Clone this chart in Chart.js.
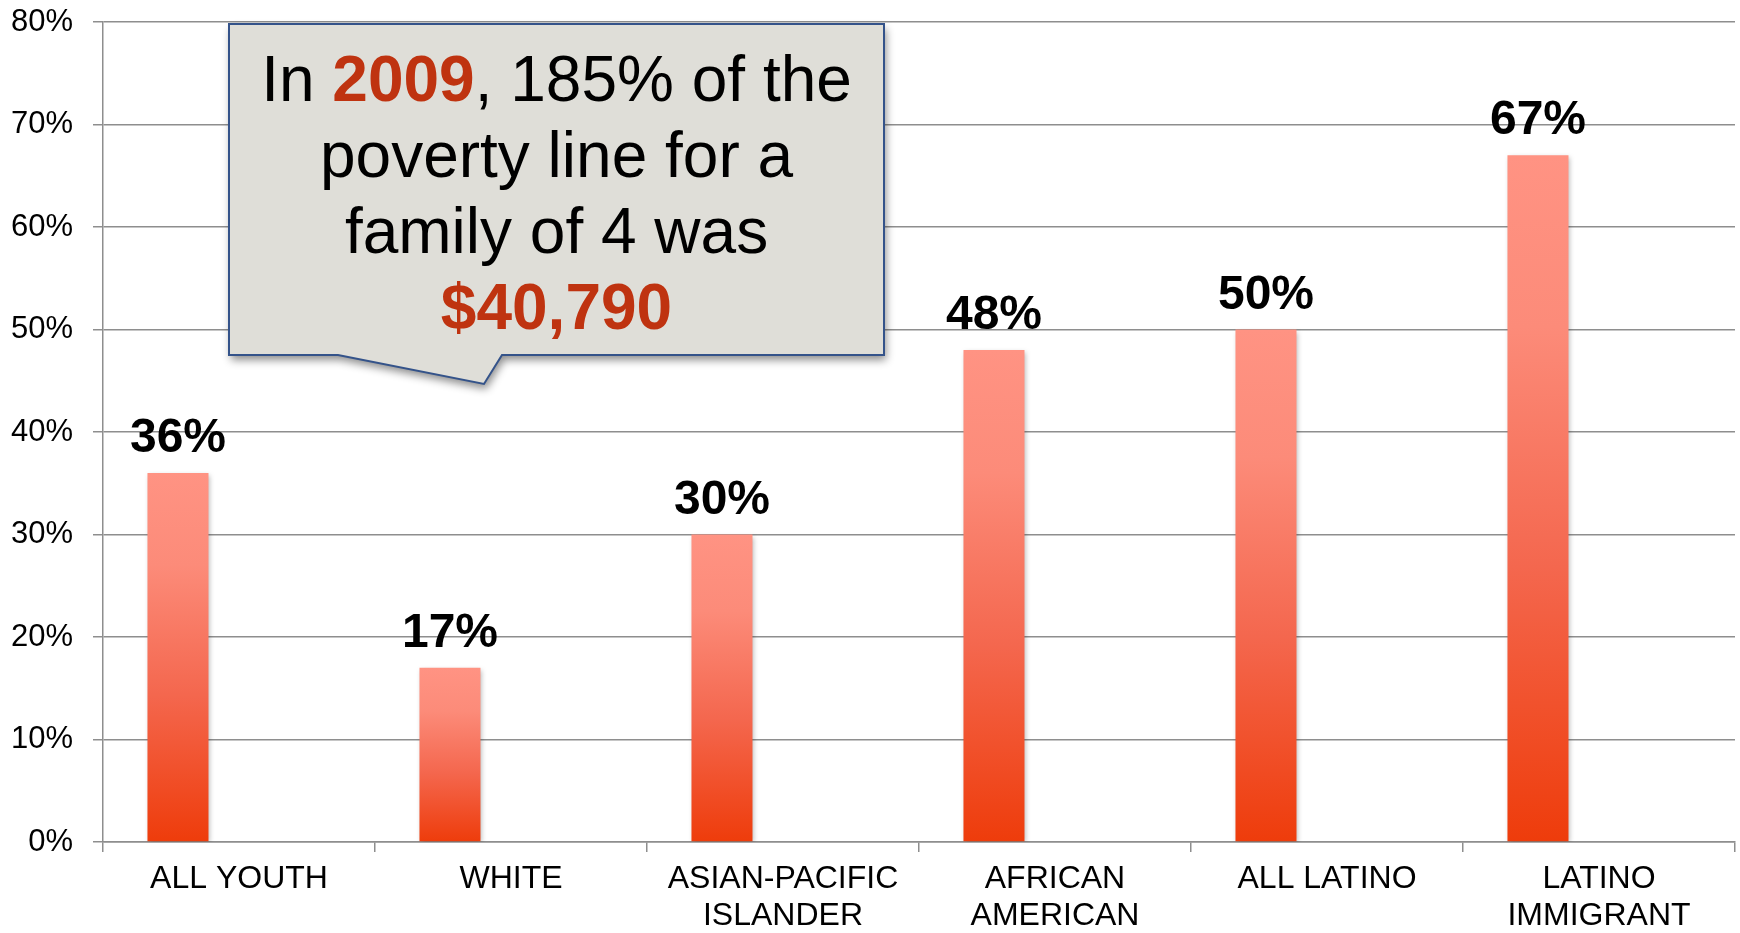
<!DOCTYPE html>
<html>
<head>
<meta charset="utf-8">
<script src="https://cdn.jsdelivr.net/npm/chart.js@4/dist/chart.umd.min.js"></script>
<style>
  html, body { margin: 0; padding: 0; background: #ffffff; }
  #wrap { width: 1740px; height: 933px; }
</style>
</head>
<body>
<div id="wrap"><canvas id="c" width="1740" height="933"></canvas></div>
<script>
// ---- data ----
const categories = ['ALL YOUTH', 'WHITE', ['ASIAN-PACIFIC', 'ISLANDER'], ['AFRICAN', 'AMERICAN'], 'ALL LATINO', ['LATINO', 'IMMIGRANT']];
const sharePct = [36, 17, 30, 48, 50, 67];
const emptySeriesB = [null, null, null, null, null, null];
const emptySeriesC = [null, null, null, null, null, null];
const yMin = 0;
const yMax = 80;
const yStep = 10;
const calloutLines = [
  [{ t: 'In ', bold: false, red: false }, { t: '2009', bold: true, red: true }, { t: ', 185% of the', bold: false, red: false }],
  [{ t: 'poverty line for a', bold: false, red: false }],
  [{ t: 'family of 4 was', bold: false, red: false }],
  [{ t: '$40,790', bold: true, red: true }]
];

const FONT = '"Liberation Sans", Arial, Helvetica, sans-serif';
const GRID = '#8e8e8e';
const RED_TEXT = '#BF3310';

function barGradient(ctx) {
  const chart = ctx.chart;
  if (!chart.chartArea || ctx.raw == null) return '#F56A50';
  const y = chart.scales.y;
  const top = y.getPixelForValue(ctx.raw);
  const bottom = y.getPixelForValue(0);
  const g = chart.ctx.createLinearGradient(0, top, 0, bottom);
  g.addColorStop(0, '#FF9383');
  g.addColorStop(0.25, '#FC8B79');
  g.addColorStop(0.6, '#F4674E');
  g.addColorStop(1, '#EE3C0B');
  return g;
}

const barShadow = {
  id: 'barShadow',
  beforeDatasetsDraw(chart) {
    const ctx = chart.ctx;
    ctx.save();
    ctx.shadowColor = 'rgba(0,0,0,0.28)';
    ctx.shadowBlur = 5;
    ctx.shadowOffsetX = 2;
    ctx.shadowOffsetY = 2;
  },
  afterDatasetsDraw(chart) {
    chart.ctx.restore();
  }
};

const valueLabels = {
  id: 'valueLabels',
  afterDraw(chart) {
    const ctx = chart.ctx;
    const meta = chart.getDatasetMeta(0);
    ctx.save();
    ctx.font = 'bold 48px ' + FONT;
    ctx.fillStyle = '#000000';
    ctx.textAlign = 'center';
    ctx.textBaseline = 'alphabetic';
    meta.data.forEach((bar, i) => {
      ctx.fillText(sharePct[i] + '%', bar.x, bar.y - 21);
    });
    ctx.restore();
  }
};

const callout = {
  id: 'callout',
  afterDraw(chart) {
    const ctx = chart.ctx;
    const L = 229, T = 24, R = 884, B = 355;
    ctx.save();
    ctx.beginPath();
    ctx.moveTo(L, T);
    ctx.lineTo(R, T);
    ctx.lineTo(R, B);
    ctx.lineTo(502, B);
    ctx.lineTo(484, 384);
    ctx.lineTo(338, B);
    ctx.lineTo(L, B);
    ctx.closePath();
    ctx.shadowColor = 'rgba(0,0,0,0.45)';
    ctx.shadowBlur = 8;
    ctx.shadowOffsetX = 2;
    ctx.shadowOffsetY = 5;
    ctx.fillStyle = '#DFDED8';
    ctx.fill();
    ctx.shadowColor = 'rgba(0,0,0,0)';
    ctx.shadowBlur = 0;
    ctx.shadowOffsetX = 0;
    ctx.shadowOffsetY = 0;
    ctx.lineWidth = 2;
    ctx.strokeStyle = '#34538A';
    ctx.stroke();

    const cx = (L + R) / 2;
    const baselines = [101, 177, 253, 329];
    ctx.textBaseline = 'alphabetic';
    ctx.textAlign = 'left';
    calloutLines.forEach((segs, li) => {
      let total = 0;
      segs.forEach(s => {
        ctx.font = (s.bold ? 'bold ' : '') + '64px ' + FONT;
        s.w = ctx.measureText(s.t).width;
        total += s.w;
      });
      let x = cx - total / 2;
      segs.forEach(s => {
        ctx.font = (s.bold ? 'bold ' : '') + '64px ' + FONT;
        ctx.fillStyle = s.red ? RED_TEXT : '#000000';
        ctx.fillText(s.t, x, baselines[li]);
        x += s.w;
      });
    });
    ctx.restore();
  }
};

new Chart(document.getElementById('c'), {
  type: 'bar',
  data: {
    labels: categories,
    datasets: [
      { label: 'Share', data: sharePct, backgroundColor: barGradient, borderWidth: 0 },
      { label: '', data: emptySeriesB, backgroundColor: 'rgba(0,0,0,0)', borderWidth: 0 },
      { label: '', data: emptySeriesC, backgroundColor: 'rgba(0,0,0,0)', borderWidth: 0 }
    ]
  },
  options: {
    responsive: false,
    animation: false,
    devicePixelRatio: 1,
    datasets: { bar: { categoryPercentage: 0.673, barPercentage: 1.0 } },
    layout: { padding: { left: 0, right: 5, top: 22, bottom: 0 } },
    plugins: { legend: { display: false }, tooltip: { enabled: false } },
    scales: {
      x: {
        grid: { offset: true, drawOnChartArea: false, drawTicks: true, tickLength: 10, color: GRID, lineWidth: 1.5 },
        border: { display: true, color: GRID, width: 1.5 },
        ticks: { font: { size: 32, family: FONT, lineHeight: 1.15 }, color: '#000000', padding: 9, maxRotation: 0, autoSkip: false },
        afterFit(s) { s.height = 91; }
      },
      y: {
        min: yMin,
        max: yMax,
        ticks: { stepSize: yStep, callback: v => v + '%', font: { size: 31, family: FONT, lineHeight: 0.13 }, color: '#000000', padding: 20 },
        grid: { color: GRID, lineWidth: 1.5, tickLength: 10, drawTicks: true },
        border: { display: true, color: GRID, width: 1.5 },
        afterFit(s) { s.width = 103; }
      }
    }
  },
  plugins: [barShadow, valueLabels, callout]
});
</script>
</body>
</html>
